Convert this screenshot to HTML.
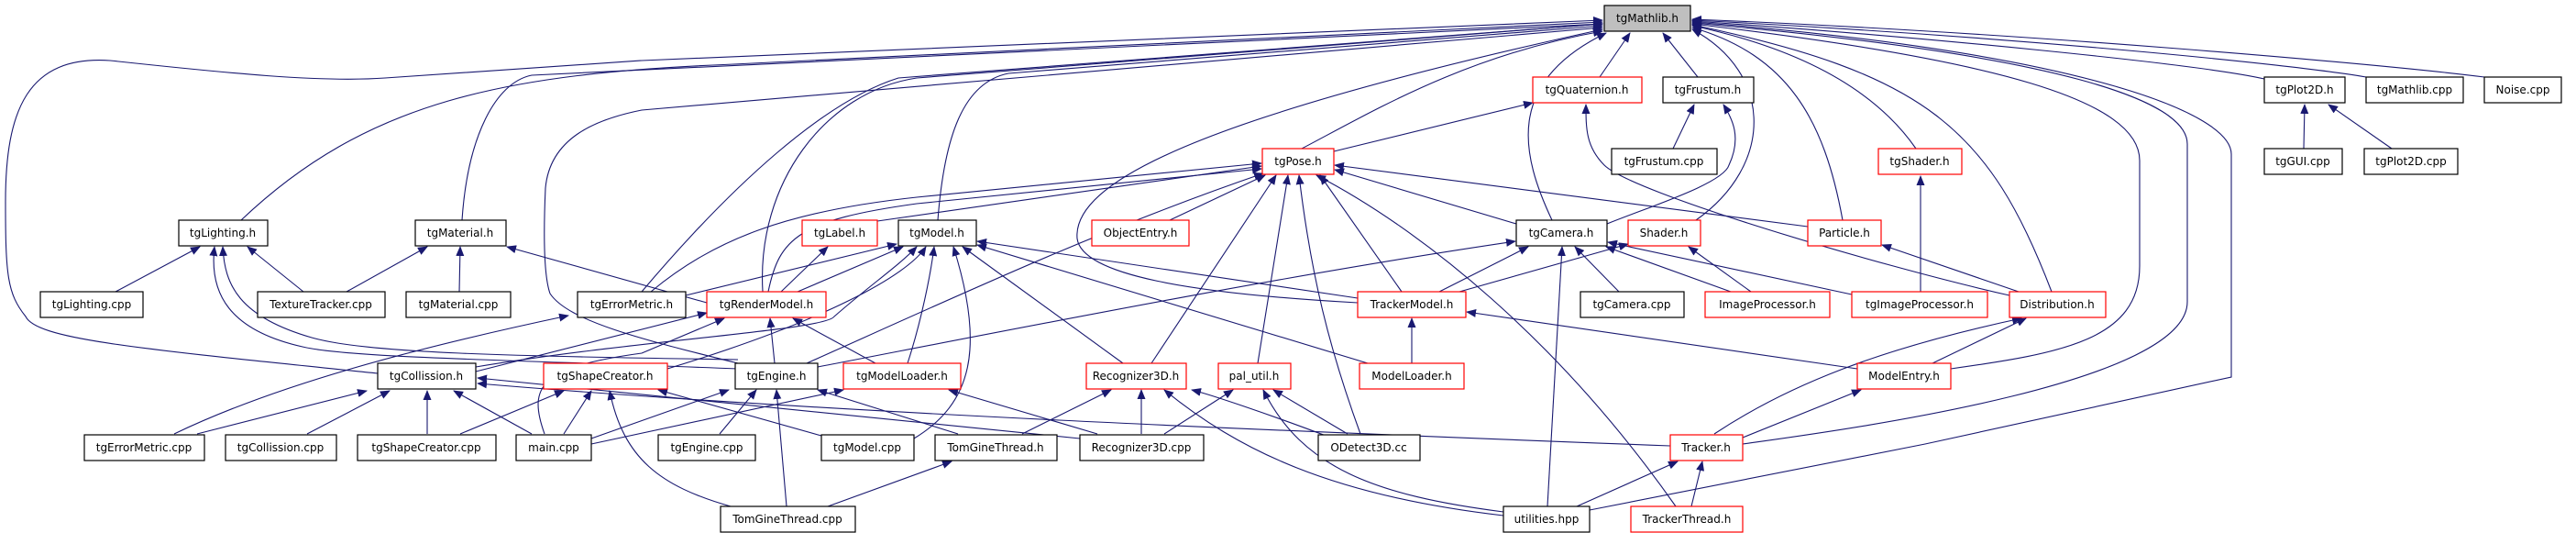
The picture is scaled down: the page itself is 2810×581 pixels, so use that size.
<!DOCTYPE html>
<html><head><meta charset="utf-8"><style>
html,body{margin:0;padding:0;background:#fff;}
svg{display:block;}
text{font-family:"DejaVu Sans","Liberation Sans",sans-serif;font-size:12px;fill:#000;}
.b{fill:#fff;stroke:#000;stroke-width:1.2;}
.r{fill:#fff;stroke:#ff0000;stroke-width:1.2;}
.g{fill:#bfbfbf;stroke:#000;stroke-width:1.2;}
path{fill:none;stroke:#191970;stroke-width:1.1;marker-end:url(#a);}
</style></head><body>
<svg width="2810" height="581" viewBox="0 0 2810 581" xmlns="http://www.w3.org/2000/svg">
<defs><marker id="a" markerUnits="userSpaceOnUse" markerWidth="11" markerHeight="9" refX="10" refY="4.5" orient="auto"><polygon points="0,0 11,4.5 0,9" fill="#191970"/></marker></defs>
<g>
<!-- tgMathlib edges -->
<path d="M263,240 C400,110 550,80 800,70 L1748,24"/>
<path d="M504,240 C510,150 540,90 580,82 L1748,26"/>
<path d="M412,407 C150,380 40,370 28,345 C8,320 6,300 6,220 C6,120 30,60 120,66 C250,80 350,90 420,85 C500,80 600,72 700,66 L1748,22"/>
<path d="M700,318 C800,200 900,110 980,85 L1748,26"/>
<path d="M805,396 C700,370 620,350 600,320 C593,300 593,250 595,205 C600,150 650,130 700,120 L1748,30"/>
<path d="M832,318 C825,200 900,100 1000,85 L1748,26"/>
<path d="M1023,240 C1030,150 1050,90 1100,80 L1748,28"/>
<path d="M1420,162 C1500,120 1600,60 1748,34"/>
<path d="M1693,240 C1660,170 1640,90 1752,36"/>
<path d="M1745,84 L1778,36"/>
<path d="M1852,84 L1814,36"/>
<path d="M1850,240 C1935,180 1935,80 1846,32"/>
<path d="M2010,240 C1990,130 1950,60 1846,30"/>
<path d="M2090,162 C2040,90 1950,50 1846,28"/>
<path d="M2238,318 C2170,140 2100,80 1846,27"/>
<path d="M2128,402 C2250,385 2334,370 2334,290 L2334,175 C2334,110 2180,65 1846,26"/>
<path d="M1901,484 C2000,470 2386,420 2386,329 L2386,157 C2386,110 2250,60 1846,25"/>
<path d="M1734,556 L2100,484 L2434,411 L2434,168 C2434,120 2250,55 1846,24"/>
<path d="M2470,86 C2400,70 2100,40 1846,23"/>
<path d="M2581,84 C2500,70 2200,40 1846,22"/>
<path d="M2710,84 C2600,70 2200,35 1846,21"/>
<path d="M1481,330 C1300,320 1180,300 1175,260 C1170,200 1300,130 1748,32"/>
<!-- other edges -->
<path d="M1455,165 L1672,112"/>
<path d="M2192,322 C2050,290 1780,210 1750,180 C1730,160 1730,140 1730,114"/>
<path d="M1825,162 L1848,114"/>
<path d="M1753,244 C1800,225 1880,200 1886,180 C1900,150 1890,130 1880,114"/>
<path d="M2513,162 L2514,114"/>
<path d="M2609,162 L2540,114"/>
<path d="M2095,318 L2095,192"/>
<path d="M957,241 L1376,181"/>
<path d="M710,318 C780,260 860,230 1000,215 L1376,178"/>
<path d="M838,318 C850,260 870,240 1000,222 L1376,184"/>
<path d="M1276,240 L1380,191"/>
<path d="M880,396 C1050,320 1200,250 1378,189"/>
<path d="M1654,244 L1456,185"/>
<path d="M1972,247 L1456,180"/>
<path d="M1529,318 L1440,191"/>
<path d="M1256,396 L1392,191"/>
<path d="M1372,396 L1405,191"/>
<path d="M1484,473 C1450,380 1430,300 1417,191"/>
<path d="M1828,552 C1700,370 1550,250 1436,191"/>
<path d="M852,318 L903,269"/>
<path d="M748,322 L978,266"/>
<path d="M870,318 L985,269"/>
<path d="M519,400 C700,370 900,360 910,345 C950,310 980,290 1000,269"/>
<path d="M728,402 C900,350 990,300 1010,269"/>
<path d="M990,396 C1005,350 1015,300 1019,269"/>
<path d="M997,478 C1060,440 1075,380 1040,269"/>
<path d="M1225,396 L1050,269"/>
<path d="M1492,396 L1066,267"/>
<path d="M1481,325 L1066,263"/>
<path d="M892,400 C1100,360 1400,300 1653,263"/>
<path d="M1570,318 L1667,269"/>
<path d="M1766,318 L1718,269"/>
<path d="M1888,318 L1752,269"/>
<path d="M2020,321 L1754,264"/>
<path d="M1688,552 L1704,269"/>
<path d="M1910,318 L1842,269"/>
<path d="M1592,318 L1776,266"/>
<path d="M2202,318 L2053,267"/>
<path d="M1540,396 L1540,347"/>
<path d="M2026,402 L1600,340"/>
<path d="M1870,473 C1950,420 2050,380 2205,347"/>
<path d="M2108,396 L2210,347"/>
<path d="M1901,477 L2030,425"/>
<path d="M1720,552 L1830,503"/>
<path d="M1845,552 L1857,503"/>
<path d="M1822,486 C1400,470 900,450 521,418"/>
<path d="M896,475 L718,425"/>
<path d="M1178,478 C900,450 700,430 521,412"/>
<path d="M126,318 L218,269"/>
<path d="M331,318 L270,269"/>
<path d="M378,318 L466,269"/>
<path d="M501,318 L502,269"/>
<path d="M771,330 L553,269"/>
<path d="M805,402 C550,392 380,390 330,378 C250,360 228,320 234,269"/>
<path d="M805,392 C550,388 400,385 340,368 C260,345 245,310 243,269"/>
<path d="M190,473 C300,420 450,380 620,344"/>
<path d="M519,405 L771,341"/>
<path d="M845,396 L840,347"/>
<path d="M955,396 L865,347"/>
<path d="M594,473 C575,420 590,400 700,385 L790,347"/>
<path d="M215,473 L400,426"/>
<path d="M335,473 L425,426"/>
<path d="M466,473 L466,426"/>
<path d="M580,473 L495,426"/>
<path d="M502,473 L615,426"/>
<path d="M615,473 L645,426"/>
<path d="M797,552 C720,530 680,500 665,426"/>
<path d="M645,478 L795,425"/>
<path d="M785,473 L825,425"/>
<path d="M858,552 L847,425"/>
<path d="M1045,473 L892,425"/>
<path d="M645,484 L920,425"/>
<path d="M1197,473 L1035,425"/>
<path d="M1115,473 L1212,425"/>
<path d="M1245,473 L1245,425"/>
<path d="M1640,562 C1450,540 1350,490 1270,425"/>
<path d="M1449,476 C1380,450 1320,430 1300,425"/>
<path d="M1270,473 L1345,425"/>
<path d="M1470,473 L1389,425"/>
<path d="M1640,558 C1500,540 1420,510 1378,425"/>
<path d="M903,552 L1038,503"/>
</g>
<g>
<rect class="g" x="1750" y="6" width="94" height="28"/><text x="1797" y="24" text-anchor="middle">tgMathlib.h</text>
<rect class="r" x="1672" y="84" width="119" height="28"/><text x="1731" y="102" text-anchor="middle">tgQuaternion.h</text>
<rect class="b" x="1814" y="84" width="99" height="28"/><text x="1863" y="102" text-anchor="middle">tgFrustum.h</text>
<rect class="b" x="2470" y="84" width="88" height="28"/><text x="2514" y="102" text-anchor="middle">tgPlot2D.h</text>
<rect class="b" x="2581" y="84" width="106" height="28"/><text x="2634" y="102" text-anchor="middle">tgMathlib.cpp</text>
<rect class="b" x="2710" y="84" width="84" height="28"/><text x="2752" y="102" text-anchor="middle">Noise.cpp</text>
<rect class="r" x="1377" y="162" width="78" height="28"/><text x="1416" y="180" text-anchor="middle">tgPose.h</text>
<rect class="b" x="1758" y="162" width="115" height="28"/><text x="1815" y="180" text-anchor="middle">tgFrustum.cpp</text>
<rect class="r" x="2049" y="162" width="91" height="28"/><text x="2094" y="180" text-anchor="middle">tgShader.h</text>
<rect class="b" x="2470" y="162" width="85" height="28"/><text x="2512" y="180" text-anchor="middle">tgGUI.cpp</text>
<rect class="b" x="2579" y="162" width="102" height="28"/><text x="2630" y="180" text-anchor="middle">tgPlot2D.cpp</text>
<rect class="b" x="195" y="240" width="97" height="28"/><text x="243" y="258" text-anchor="middle">tgLighting.h</text>
<rect class="b" x="453" y="240" width="99" height="28"/><text x="502" y="258" text-anchor="middle">tgMaterial.h</text>
<rect class="r" x="875" y="240" width="82" height="28"/><text x="916" y="258" text-anchor="middle">tgLabel.h</text>
<rect class="b" x="980" y="240" width="85" height="28"/><text x="1022" y="258" text-anchor="middle">tgModel.h</text>
<rect class="r" x="1191" y="240" width="106" height="28"/><text x="1244" y="258" text-anchor="middle">ObjectEntry.h</text>
<rect class="b" x="1654" y="240" width="99" height="28"/><text x="1703" y="258" text-anchor="middle">tgCamera.h</text>
<rect class="r" x="1776" y="240" width="79" height="28"/><text x="1815" y="258" text-anchor="middle">Shader.h</text>
<rect class="r" x="1972" y="240" width="80" height="28"/><text x="2012" y="258" text-anchor="middle">Particle.h</text>
<rect class="b" x="44" y="318" width="112" height="28"/><text x="100" y="336" text-anchor="middle">tgLighting.cpp</text>
<rect class="b" x="281" y="318" width="139" height="28"/><text x="350" y="336" text-anchor="middle">TextureTracker.cpp</text>
<rect class="b" x="443" y="318" width="114" height="28"/><text x="500" y="336" text-anchor="middle">tgMaterial.cpp</text>
<rect class="b" x="630" y="318" width="118" height="28"/><text x="689" y="336" text-anchor="middle">tgErrorMetric.h</text>
<rect class="r" x="771" y="318" width="130" height="28"/><text x="836" y="336" text-anchor="middle">tgRenderModel.h</text>
<rect class="r" x="1481" y="318" width="118" height="28"/><text x="1540" y="336" text-anchor="middle">TrackerModel.h</text>
<rect class="b" x="1724" y="318" width="113" height="28"/><text x="1780" y="336" text-anchor="middle">tgCamera.cpp</text>
<rect class="r" x="1860" y="318" width="136" height="28"/><text x="1928" y="336" text-anchor="middle">ImageProcessor.h</text>
<rect class="r" x="2020" y="318" width="148" height="28"/><text x="2094" y="336" text-anchor="middle">tgImageProcessor.h</text>
<rect class="r" x="2192" y="318" width="105" height="28"/><text x="2244" y="336" text-anchor="middle">Distribution.h</text>
<rect class="b" x="412" y="396" width="107" height="28"/><text x="465" y="414" text-anchor="middle">tgCollission.h</text>
<rect class="r" x="593" y="396" width="135" height="28"/><text x="660" y="414" text-anchor="middle">tgShapeCreator.h</text>
<rect class="b" x="802" y="396" width="90" height="28"/><text x="847" y="414" text-anchor="middle">tgEngine.h</text>
<rect class="r" x="920" y="396" width="128" height="28"/><text x="984" y="414" text-anchor="middle">tgModelLoader.h</text>
<rect class="r" x="1185" y="396" width="109" height="28"/><text x="1239" y="414" text-anchor="middle">Recognizer3D.h</text>
<rect class="r" x="1329" y="396" width="79" height="28"/><text x="1368" y="414" text-anchor="middle">pal_util.h</text>
<rect class="r" x="1483" y="396" width="114" height="28"/><text x="1540" y="414" text-anchor="middle">ModelLoader.h</text>
<rect class="r" x="2026" y="396" width="102" height="28"/><text x="2077" y="414" text-anchor="middle">ModelEntry.h</text>
<rect class="b" x="92" y="474" width="131" height="28"/><text x="157" y="492" text-anchor="middle">tgErrorMetric.cpp</text>
<rect class="b" x="246" y="474" width="121" height="28"/><text x="306" y="492" text-anchor="middle">tgCollission.cpp</text>
<rect class="b" x="390" y="474" width="151" height="28"/><text x="465" y="492" text-anchor="middle">tgShapeCreator.cpp</text>
<rect class="b" x="563" y="474" width="82" height="28"/><text x="604" y="492" text-anchor="middle">main.cpp</text>
<rect class="b" x="718" y="474" width="106" height="28"/><text x="771" y="492" text-anchor="middle">tgEngine.cpp</text>
<rect class="b" x="896" y="474" width="101" height="28"/><text x="946" y="492" text-anchor="middle">tgModel.cpp</text>
<rect class="b" x="1020" y="474" width="133" height="28"/><text x="1086" y="492" text-anchor="middle">TomGineThread.h</text>
<rect class="b" x="1178" y="474" width="135" height="28"/><text x="1245" y="492" text-anchor="middle">Recognizer3D.cpp</text>
<rect class="b" x="1438" y="474" width="111" height="28"/><text x="1493" y="492" text-anchor="middle">ODetect3D.cc</text>
<rect class="r" x="1822" y="474" width="79" height="28"/><text x="1861" y="492" text-anchor="middle">Tracker.h</text>
<rect class="b" x="786" y="552" width="147" height="28"/><text x="859" y="570" text-anchor="middle">TomGineThread.cpp</text>
<rect class="b" x="1640" y="552" width="94" height="28"/><text x="1687" y="570" text-anchor="middle">utilities.hpp</text>
<rect class="r" x="1779" y="552" width="122" height="28"/><text x="1840" y="570" text-anchor="middle">TrackerThread.h</text>
</g>
</svg>
</body></html>
